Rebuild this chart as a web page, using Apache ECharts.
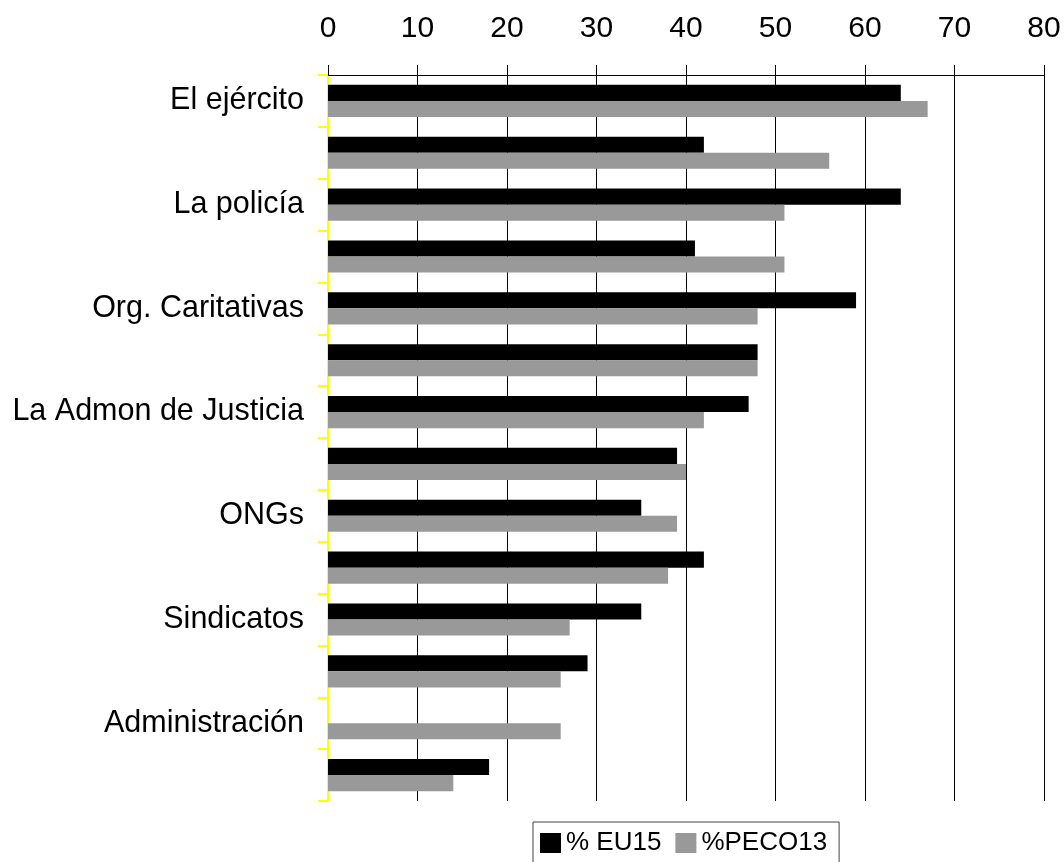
<!DOCTYPE html>
<html>
<head>
<meta charset="utf-8">
<script src="https://cdn.jsdelivr.net/npm/echarts@6/dist/echarts.min.js"></script>
<style>
  html, body { margin: 0; padding: 0; background: #fff; }
  #chart { width: 1064px; height: 862px; }
</style>
</head>
<body>
<div id="chart"></div>
<script>
// Categories (only every other one is labelled in the original)
const categories = [
  'El ejército', '', 'La policía', '', 'Org. Caritativas', '',
  'La Admon de Justicia', '', 'ONGs', '', 'Sindicatos', '',
  'Administración', ''
]
const eu15 = [64, 42, 64, 41, 59, 48, 47, 39, 35, 42, 35, 29, null, 18]
const peco13 = [67, 56, 51, 51, 48, 48, 42, 40, 39, 38, 27, 26, 26, 14]

const FONT = '"Liberation Sans", Arial, sans-serif'

const chart = echarts.init(document.getElementById('chart'))
chart.setOption({
  animation: false,
  textStyle: { fontFamily: FONT },
  grid: { left: 328, right: 20, top: 75, bottom: 61 },
  legend: {
    left: 533,
    top: 822,
    itemWidth: 21,
    itemHeight: 20,
    itemGap: 14,
    itemStyle: { borderWidth: 0 },
    padding: [8, 12, 10, 7],
    borderColor: '#444',
    borderWidth: 1,
    icon: 'rect',
    textStyle: { fontSize: 26, color: '#000', fontFamily: FONT },
    data: ['% EU15', '%PECO13'],
  },
  xAxis: {
    type: 'value',
    position: 'top',
    min: 0,
    max: 80,
    interval: 10,
    axisLine: { show: true, lineStyle: { color: '#000', width: 1 } },
    axisTick: { show: true, length: 10, lineStyle: { color: '#000' } },
    axisLabel: { fontSize: 30, color: '#000', margin: 31, fontFamily: FONT },
    splitLine: { show: true, lineStyle: { color: '#000', width: 1 } },
  },
  yAxis: {
    type: 'category',
    inverse: true,
    data: categories,
    axisLine: { show: true, lineStyle: { color: '#ffff00', width: 2 } },
    axisTick: { show: true, length: 10, lineStyle: { color: '#ffff00', width: 2 } },
    axisLabel: { interval: 0, fontSize: 30.5, color: '#000', margin: 24, padding: [3, 0, 0, 0], fontFamily: FONT },
  },
  series: [
    {
      name: '% EU15',
      type: 'bar',
      data: eu15,
      barGap: '0%',
      barCategoryGap: '38%',
      itemStyle: { color: '#000' },
    },
    {
      name: '%PECO13',
      type: 'bar',
      data: peco13,
      barGap: '0%',
      barCategoryGap: '38%',
      itemStyle: { color: '#999999' },
    },
  ],
})
</script>
</body>
</html>
